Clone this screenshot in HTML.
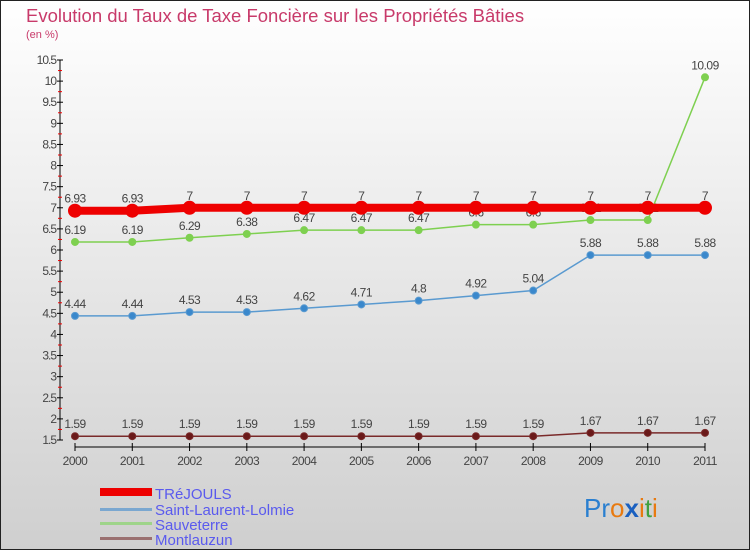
<!DOCTYPE html>
<html><head><meta charset="utf-8"><style>
body{margin:0;}
svg{display:block;font-family:"Liberation Sans","DejaVu Sans",sans-serif;}
</style></head><body>
<svg width="750" height="550" viewBox="0 0 750 550">
<defs><linearGradient id="bg" x1="0" y1="0" x2="0" y2="1"><stop offset="0" stop-color="#ffffff"/><stop offset="1" stop-color="#cfcfcf"/></linearGradient></defs>
<rect x="0.5" y="0.5" width="749" height="549" fill="url(#bg)" stroke="#222"/>
<text x="26" y="22" font-size="18.5" fill="#c83a6a">Evolution du Taux de Taxe Foncière sur les Propriétés Bâties</text>
<text x="26" y="38" font-size="11" fill="#c83a6a">(en %)</text>
<g id="axes"></g>
<g id="series"></g>
<g>
<rect x="100" y="488" width="52" height="8" fill="#e00"/>
<text x="155" y="499" font-size="15" fill="#5a5aee">TRéJOULS</text>
<rect x="100" y="508" width="52" height="3" fill="#7aa7d0"/>
<text x="155" y="515" font-size="15" fill="#5a5aee">Saint-Laurent-Lolmie</text>
<rect x="100" y="522" width="52" height="3" fill="#9ed48a"/>
<text x="155" y="530" font-size="15" fill="#5a5aee">Sauveterre</text>
<rect x="100" y="537" width="52" height="3" fill="#9a7070"/>
<text x="155" y="545" font-size="15" fill="#5a5aee">Montlauzun</text>
</g>
<g font-size="26">
<text x="584" y="517"><tspan fill="#2a7fd0">Pr</tspan><tspan fill="#e87a10">o</tspan><tspan fill="#1a60c0" font-weight="bold">x</tspan><tspan fill="#e87a10">i</tspan><tspan fill="#40a040">t</tspan><tspan fill="#e87a10">i</tspan></text>
</g>
</svg>
<script>
const years=[2000,2001,2002,2003,2004,2005,2006,2007,2008,2009,2010,2011];
const trejouls=[6.93,6.93,7,7,7,7,7,7,7,7,7,7];
const saintLaurent=[4.44,4.44,4.53,4.53,4.62,4.71,4.8,4.92,5.04,5.88,5.88,5.88];
const sauveterre=[6.19,6.19,6.29,6.38,6.47,6.47,6.47,6.6,6.6,6.71,6.71,10.09];
const montlauzun=[1.59,1.59,1.59,1.59,1.59,1.59,1.59,1.59,1.59,1.67,1.67,1.67];
const labelsTrejouls=["6.93","6.93","7","7","7","7","7","7","7","7","7","7"];
const labelsSaint=["4.44","4.44","4.53","4.53","4.62","4.71","4.8","4.92","5.04","5.88","5.88","5.88"];
const labelsSauv=["6.19","6.19","6.29","6.38","6.47","6.47","6.47","6.6","6.6","6.71","6.71","10.09"];
const labelsMont=["1.59","1.59","1.59","1.59","1.59","1.59","1.59","1.59","1.59","1.67","1.67","1.67"];
const yTicks=[1.5,2,2.5,3,3.5,4,4.5,5,5.5,6,6.5,7,7.5,8,8.5,9,9.5,10,10.5];
const NS="http://www.w3.org/2000/svg";
const yMin=1.5,yMax=10.5,py0=440,py1=60;
const X=i=>75+i*(630/(years.length-1));
const Y=v=>py0-(v-yMin)/(yMax-yMin)*(py0-py1);
function mk(t,a,p){const e=document.createElementNS(NS,t);for(const k in a)e.setAttribute(k,a[k]);p.appendChild(e);return e;}
const ax=document.getElementById('axes'),sr=document.getElementById('series');
const yl=mk('line',{x1:60,y1:Y(yMax),x2:60,y2:Y(yMin),stroke:'#000'},ax);


yTicks.forEach(v=>{
 mk('line',{x1:57,x2:63,y1:Y(v),y2:Y(v),stroke:'#000'},ax);
 if(v<yMax) mk('line',{x1:58,x2:62,y1:Y(v+0.25),y2:Y(v+0.25),stroke:'#e00'},ax);
 const t=mk('text',{x:56,y:Y(v)+4,'text-anchor':'end','font-size':12,fill:'#444','letter-spacing':'-1'},ax);t.textContent=String(v);
 
 
});
const xl=mk('line',{x1:X(0),y1:447,x2:X(years.length-1),y2:447,stroke:'#000'},ax);


years.forEach((y,i)=>{
 mk('line',{x1:X(i),x2:X(i),y1:443,y2:451,stroke:'#000'},ax);
 const t=mk('text',{x:X(i),y:465,'text-anchor':'middle','font-size':12,fill:'#444','letter-spacing':'-0.5'},ax);t.textContent=y;
 
 
});
function series(vals,labels,color,w,r,fill,name){
 const g=mk('g',{},sr);
 
 
 mk('polyline',{points:vals.map((v,i)=>X(i)+','+Y(v)).join(' '),fill:'none',stroke:color,'stroke-width':w},g);
 vals.forEach((v,i)=>{
  const c=mk('circle',{cx:X(i),cy:Y(v),r:r,fill:fill,stroke:color,'stroke-width':1},g);
  
  
  const t=mk('text',{x:X(i),y:Y(v)-8,'text-anchor':'middle','font-size':12,fill:'#444','letter-spacing':'-0.5'},g);t.textContent=labels[i];
  
  
 });
}
series(montlauzun,labelsMont,'#7a2a2a',1.5,3.5,'#6a1a1a','montlauzun');
series(saintLaurent,labelsSaint,'#5a9ad0',1.5,3.5,'#3a88cc','saint-laurent');
series(sauveterre,labelsSauv,'#7ed050',1.5,3.5,'#7ed050','sauveterre');
series(trejouls,labelsTrejouls,'#e00',8,6.5,'#e00','trejouls');
</script>
</body></html>
